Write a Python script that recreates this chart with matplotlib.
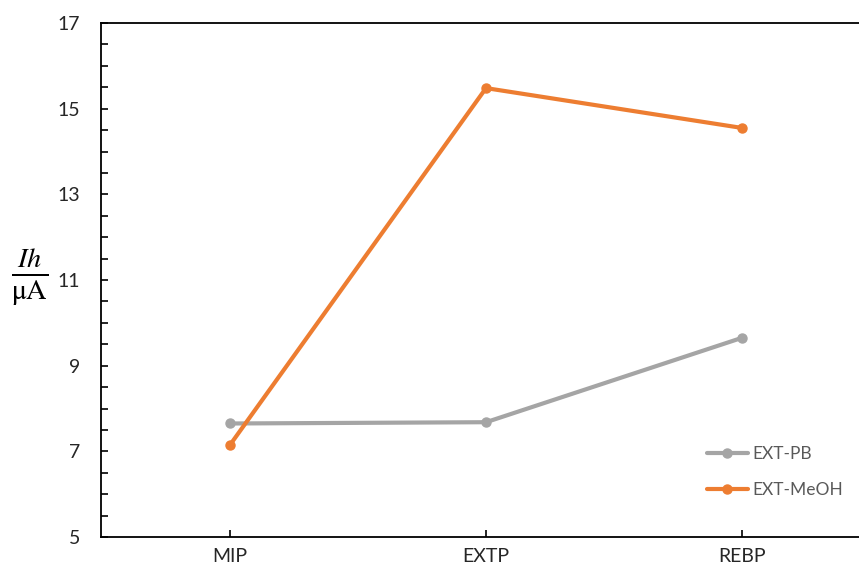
import matplotlib
matplotlib.use("Agg")
import matplotlib.pyplot as plt
from matplotlib.ticker import MultipleLocator

# data
categories = ["MIP", "EXTP", "REBP"]
ext_pb = [7.65, 7.68, 9.65]
ext_meoh = [7.15, 15.48, 14.55]
yticks = [5, 7, 9, 11, 13, 15, 17]

plt.rcParams['font.family'] = ['Lato', 'DejaVu Sans']
plt.rcParams['mathtext.fontset'] = 'stix'

fig = plt.figure(figsize=(8.59, 5.66), dpi=100)
ax = fig.add_axes([101 / 859, 29 / 566, 1 - 101 / 859, 514 / 566])

x = range(len(categories))
ax.plot(x, ext_pb, color="#A5A5A5", lw=3, marker="o", ms=6.5, label="EXT-PB",
        solid_capstyle="round")
ax.plot(x, ext_meoh, color="#ED7D31", lw=3, marker="o", ms=6.5, label="EXT-MeOH",
        solid_capstyle="round")

ax.set_xlim(-0.504, 2.457)
ax.set_ylim(5, 17)
ax.set_xticks(list(x))
ax.set_xticklabels(categories)
ax.set_yticks(yticks)
ax.yaxis.set_minor_locator(MultipleLocator(0.5))

ax.tick_params(axis="both", which="both", direction="in", colors="#000000",
               labelcolor="#262626", labelsize=14, width=1.2)
ax.tick_params(axis="y", which="both", length=5, pad=15)
ax.tick_params(axis="x", length=5, pad=8)
ax.spines["right"].set_visible(False)
for s in ["left", "top", "bottom"]:
    ax.spines[s].set_linewidth(1.3)

fig.text(30 / 859, 1 - 277 / 566, r"$\frac{Ih}{\mathrm{\mu A}}$", fontsize=29,
         ha="center", va="center")

leg = ax.legend(loc="lower right", bbox_to_anchor=(1.0, 0.045), frameon=False,
                fontsize=12.5, handlelength=2.4, labelspacing=1.15, handletextpad=0.25)
for t in leg.get_texts():
    t.set_color("#595959")

fig.savefig("out.png", dpi=100)
